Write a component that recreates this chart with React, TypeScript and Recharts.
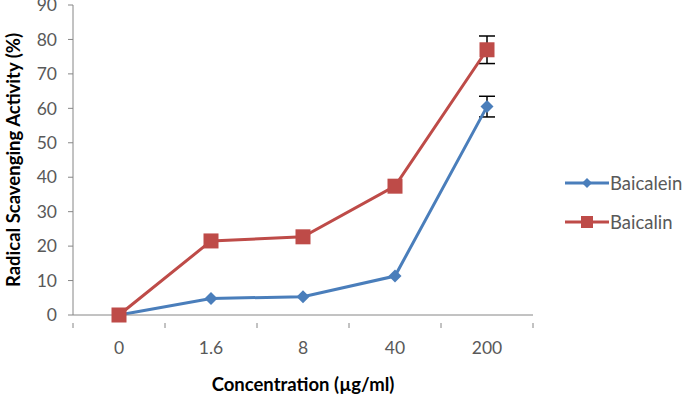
import React from 'react'
import { LineChart, Line, XAxis, YAxis, ErrorBar } from 'recharts'

const categories = ['0', '1.6', '8', '40', '200']
const baicalein = [0, 4.8, 5.3, 11.3, 60.5]
const baicalin = [0, 21.5, 22.7, 37.4, 77]
const baicaleinErr = [null, null, null, null, 3]
const baicalinErr = [null, null, null, null, 4]
const yTicks = [0, 10, 20, 30, 40, 50, 60, 70, 80, 90]

const BLUE = '#4a7ebb'
const RED = '#be4b48'
const AXIS = '#868686'
const TEXT = '#595959'
const FONT = 'Lato, "Open Sans", sans-serif'

const data = categories.map((c, i) => ({
  x: i + 0.5,
  name: c,
  baicalein: baicalein[i],
  baicalin: baicalin[i],
  baicaleinErr: baicaleinErr[i],
  baicalinErr: baicalinErr[i],
}))

// ticks at category edges (integers) and labels at category centres (halves)
const xTicks: number[] = []
for (let i = 0; i <= categories.length * 2; i++) xTicks.push(i / 2)

const XTick = ({ x, y, payload }: any) => {
  const v = payload.value
  if (Number.isInteger(v)) {
    return <line x1={x} x2={x} y1={y} y2={y + 5} stroke={AXIS} strokeWidth={1} />
  }
  return (
    <text x={x} y={y + 27} textAnchor="middle" dominantBaseline="middle" fill={TEXT} fontSize={17.5} fontFamily={FONT}>
      {categories[Math.floor(v)]}
    </text>
  )
}

const Diamond = ({ cx, cy, size = 6.5 }: any) => (
  <path d={`M${cx},${cy - size} L${cx + size},${cy} L${cx},${cy + size} L${cx - size},${cy} Z`} fill={BLUE} />
)

const Square = ({ cx, cy, size = 7.5 }: any) => (
  <rect x={cx - size} y={cy - size} width={size * 2} height={size * 2} fill={RED} />
)

const LegendBox = () => {
  const items = [
    { label: 'Baicalein', color: BLUE, marker: 'diamond' },
    { label: 'Baicalin', color: RED, marker: 'square' },
  ]
  return (
    <div style={{ position: 'absolute', left: 565, top: 173, fontFamily: FONT, fontSize: 18.5, color: TEXT }}>
      {items.map((it, i) => (
        <div key={it.label} style={{ display: 'flex', alignItems: 'center', height: 20, marginBottom: i === 0 ? 19 : 0 }}>
          <svg width={44} height={16}>
            <line x1={0} x2={44} y1={8} y2={8} stroke={it.color} strokeWidth={3} />
            {it.marker === 'diamond' ? <Diamond cx={22} cy={8} size={5} /> : <Square cx={22} cy={8} size={6} />}
          </svg>
          <span style={{ marginLeft: 1 }}>{it.label}</span>
        </div>
      ))}
    </div>
  )
}

export default function App() {
  return (
    <div style={{ position: 'absolute', left: 0, top: 0, width: 689, height: 396, background: '#fff' }}>
      <LineChart width={689} height={396} data={data} margin={{ top: 5, right: 156, left: 23, bottom: 51 }}>
        <XAxis
          dataKey="x"
          type="number"
          domain={[0, categories.length]}
          ticks={xTicks}
          interval={0}
          tick={<XTick />}
          tickLine={false}
          axisLine={{ stroke: AXIS }}
          height={30}
          label={{
            value: 'Concentration (µg/ml)',
            position: 'insideBottom',
            offset: -46,
            fill: '#000',
            fontSize: 18.5,
            fontWeight: 700,
            fontFamily: FONT,
          }}
        />
        <YAxis
          domain={[0, 90]}
          ticks={yTicks}
          interval={0}
          width={50}
          tickSize={5}
          tickMargin={11}
          axisLine={{ stroke: AXIS }}
          tickLine={{ stroke: AXIS }}
          tick={{ fill: TEXT, fontSize: 17.5, fontFamily: FONT }}
          label={{
            value: 'Radical Scavenging Activity (%)',
            angle: -90,
            position: 'insideLeft',
            offset: -10,
            style: { textAnchor: 'middle' },
            fill: '#000',
            fontSize: 18.5,
            fontWeight: 700,
            fontFamily: FONT,
          }}
        />
        <Line
          dataKey="baicalein"
          stroke={BLUE}
          strokeWidth={3}
          dot={<Diamond />}
          activeDot={false}
          isAnimationActive={false}
        >
          <ErrorBar dataKey="baicaleinErr" width={8} stroke="#000" strokeWidth={1.5} direction="y" />
        </Line>
        <Line
          dataKey="baicalin"
          stroke={RED}
          strokeWidth={3}
          dot={<Square />}
          activeDot={false}
          isAnimationActive={false}
        >
          <ErrorBar dataKey="baicalinErr" width={8} stroke="#000" strokeWidth={1.5} direction="y" />
        </Line>
      </LineChart>
      <LegendBox />
    </div>
  )
}
